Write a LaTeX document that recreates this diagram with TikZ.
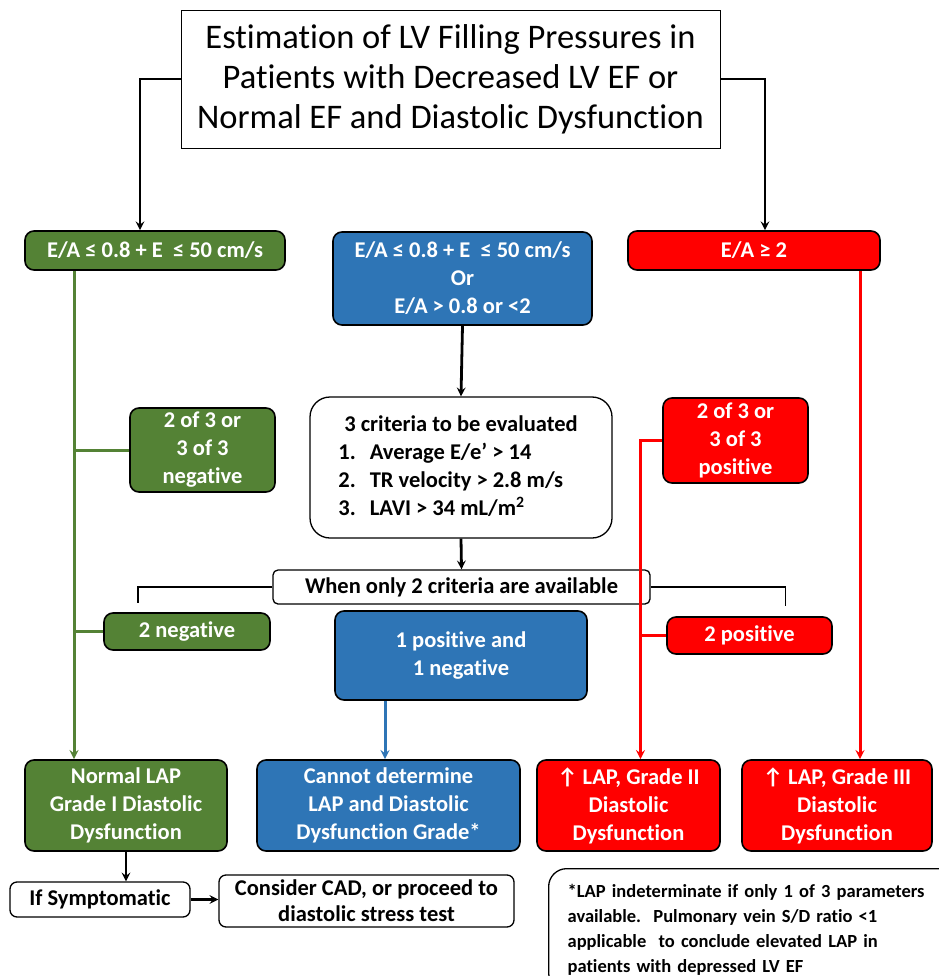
\documentclass[tikz,border=0pt]{standalone}
\usepackage{fontspec}
\setmainfont{Carlito}[Ligatures=NoCommon]
\usepackage{tikz}
\usepackage{xcolor}
\definecolor{gradegreen}{RGB}{84,130,53}
\definecolor{gradeblue}{RGB}{46,117,182}
\definecolor{gradered}{RGB}{255,0,0}

\begin{document}
\begin{tikzpicture}[x=1pt, y=-1pt]
    % Define styles
    \tikzstyle{box} = [rectangle, draw=black, line width=1.6pt, rounded corners=9pt, text=white, font=\bfseries\fontsize{22.5}{28}\selectfont, align=center, inner sep=0pt]
    \tikzstyle{greenbox} = [box, fill=gradegreen]
    \tikzstyle{bluebox} = [box, fill=gradeblue]
    \tikzstyle{redbox} = [box, fill=gradered]
    \tikzstyle{plainbox} = [box, fill=white, text=black, line width=1.3pt]
    \tikzstyle{arrow} = [line width=2.8pt, ->, >=stealth]
    \tikzstyle{line} = [line width=1.6pt]
    \tikzstyle{garrow} = [line width=3pt, draw=gradegreen, ->, >=stealth]
    \tikzstyle{barrow} = [line width=3pt, draw=gradeblue, ->, >=stealth]
    \tikzstyle{rarrow} = [line width=3pt, draw=gradered, ->, >=stealth]

    \useasboundingbox (0,0) rectangle (938,976);

    % Nodes
    \node [rectangle, draw, line width=0.8pt, minimum width=539pt, minimum height=138pt, align=center, font=\fontsize{34.5}{40}\selectfont] (title) at (450.5,79) {Estimation of LV Filling Pressures in\\Patients with Decreased LV EF or\\Normal EF and Diastolic Dysfunction};
    \node [greenbox, minimum width=260pt, minimum height=39pt] (greenEA) at (155,250.5) {E/A ≤ 0.8 + E\ \ ≤ 50 cm/s};
    \node [bluebox, minimum width=259pt, minimum height=93pt] (blueEA) at (462.5,278.5) {E/A ≤ 0.8 + E\ \ ≤ 50 cm/s\\Or\\E/A > 0.8 or <2};
    \node [redbox, minimum width=252pt, minimum height=39pt] (redEA) at (754,250.5) {E/A ≥ 2};
    \node [greenbox, minimum width=145pt, minimum height=84pt] (neg3) at (202.5,450) {2 of 3 or\\3 of 3\\negative};
    \node [plainbox, rounded corners=20pt, minimum width=302pt, minimum height=141pt] (criteria) at (461,467.5) {\begin{tabular}{@{}l@{\hspace{14pt}}l@{}}\multicolumn{2}{c}{3 criteria to be evaluated}\\1. & Average E/e’ > 14\\2. & TR velocity > 2.8 m/s\\3. & LAVI > 34 mL/m\textsuperscript{2}\end{tabular}};
    \node [redbox, minimum width=145pt, minimum height=85pt] (pos3) at (735.5,440.5) {2 of 3 or\\3 of 3\\positive};
    \node [plainbox, rounded corners=5pt, minimum width=377pt, minimum height=34pt] (only2) at (461.5,587) {When only 2 criteria are available};
    \node [greenbox, minimum width=166pt, minimum height=37pt] (neg2) at (187,631.5) {2 negative};
    \node [bluebox, minimum width=252pt, minimum height=89pt] (mixed) at (461,655.5) {1 positive and\\1 negative};
    \node [redbox, minimum width=165pt, minimum height=37pt] (pos2) at (749.5,635.5) {2 positive};
    \node [greenbox, minimum width=202pt, minimum height=91pt] (normal) at (126,805.5) {Normal LAP\\Grade I Diastolic\\Dysfunction};
    \node [bluebox, minimum width=263pt, minimum height=91pt] (undet) at (388.5,805.5) {Cannot determine\\LAP and Diastolic\\Dysfunction Grade*};
    \node [redbox, minimum width=183pt, minimum height=91pt] (grade2) at (628.5,805.5) {↑ LAP, Grade II\\Diastolic\\Dysfunction};
    \node [redbox, minimum width=190pt, minimum height=91pt] (grade3) at (837,805.5) {↑ LAP, Grade III\\Diastolic\\Dysfunction};
    \node [plainbox, rounded corners=7pt, minimum width=180pt, minimum height=35pt] (symptom) at (100,899.5) {If Symptomatic};
    \node [plainbox, rounded corners=7pt, minimum width=295pt, minimum height=52pt, font=\bfseries\fontsize{22.5}{26}\selectfont] (cad) at (366.5,901) {Consider CAD, or proceed to\\diastolic stress test};
    \node [plainbox, rounded corners=18pt, anchor=north west, minimum height=122pt, align=left, text width=374pt, inner xsep=19pt, inner ysep=9pt, font=\bfseries\fontsize{18.5}{25}\selectfont] (note) at (548,868) {*LAP indeterminate if only 1 of 3 parameters\\available.\ \ Pulmonary vein S/D ratio <1\\applicable\ \ to conclude elevated LAP in\\patients with depressed LV EF};

    % Arrows
    \draw [arrow] (title.west) -| ([xshift=-15pt]greenEA.north);
    \draw [arrow] (title.east) -| ([xshift=11pt]redEA.north);
    \draw [arrow] (blueEA.south) -- (criteria.north);
    \draw [arrow] (criteria.south) -- (only2.north);
    \draw [line] (only2.west) -| ([xshift=-49pt,yshift=9pt]neg2.north);
    \draw [line] (only2.east) -| ([xshift=36pt,yshift=10pt]pos2.north);

    \coordinate (gbus) at ([xshift=-81pt]greenEA.south);
    \draw [garrow] (gbus) -- (gbus |- normal.north);
    \draw [garrow, -] (neg3.west) -- (neg3.west -| gbus);
    \draw [garrow, -] (neg2.west) -- (neg2.west -| gbus);

    \coordinate (bbus) at ([xshift=-76pt]mixed.south);
    \draw [barrow] (bbus) -- (bbus |- undet.north);

    \coordinate (rbus) at ([xshift=12pt]grade2.north);
    \draw [rarrow] (pos3.west) -| (rbus);
    \draw [rarrow, -] (pos2.west) -- (pos2.west -| rbus);
    \coordinate (rtop) at ([xshift=106pt]redEA.south);
    \draw [rarrow] (rtop) -- (rtop |- grade3.north);

    \draw [arrow] (normal.south) -- (normal.south |- symptom.north);
    \draw [arrow] (symptom.east) -- (symptom.east -| cad.west);
\end{tikzpicture}
\end{document}
